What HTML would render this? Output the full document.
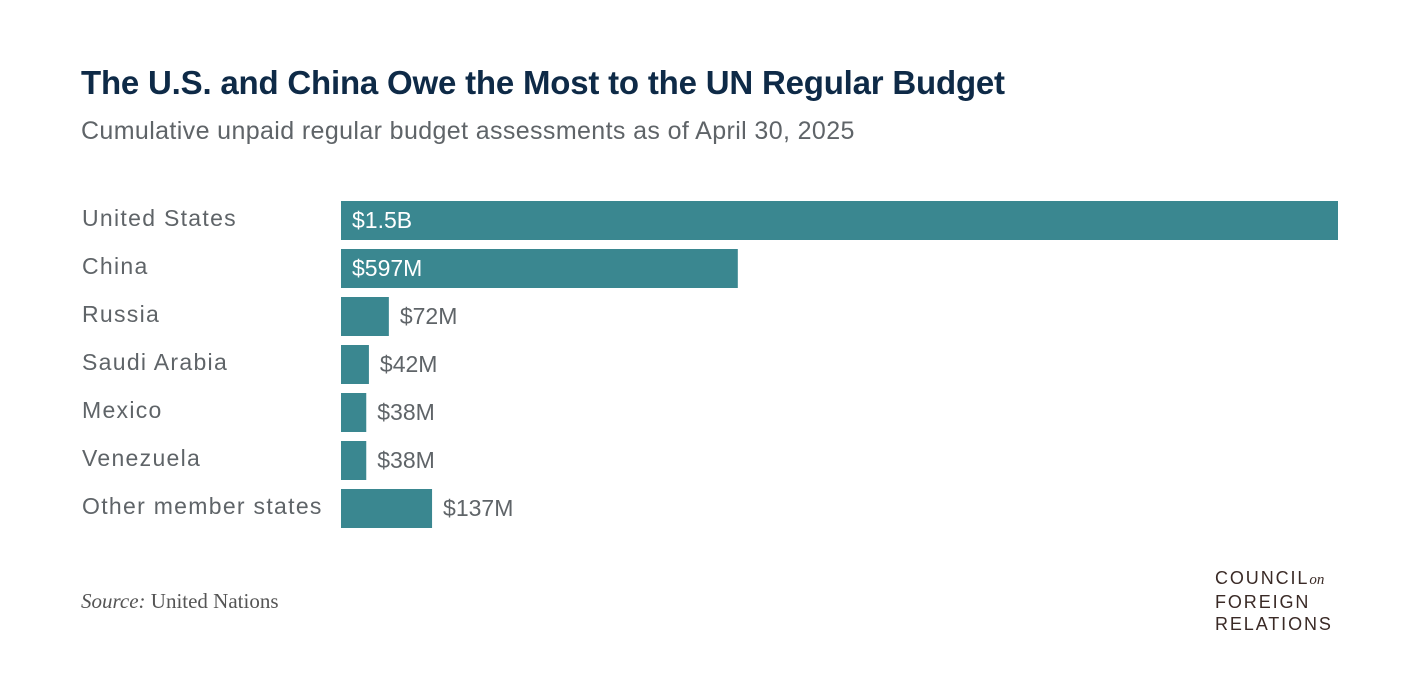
<!DOCTYPE html>
<html><head><meta charset="utf-8"><style>
body{margin:0;width:1402px;height:684px;background:#fff;font-family:"Liberation Sans",sans-serif;position:relative;overflow:hidden}
.t{position:absolute;white-space:nowrap}
</style></head><body>
<div class="t" style="left:81px;top:64px;font-size:33px;font-weight:bold;color:#0e2a47;letter-spacing:-0.2px">The U.S. and China Owe the Most to the UN Regular Budget</div>
<div class="t" style="left:81px;top:117px;font-size:25px;color:#5f6468;letter-spacing:0.38px">Cumulative unpaid regular budget assessments as of April 30, 2025</div>
<svg id="chart" width="1402" height="560" style="position:absolute;left:0;top:0"></svg>
<div class="t" style="left:81px;top:589px;font-size:21px;color:#555;font-family:'Liberation Serif',serif"><i>Source:</i> United Nations</div>
<div class="t" style="left:1215px;top:567px;font-size:18px;line-height:22px;color:#3a2a26;letter-spacing:1.9px">COUNCIL<i style="font-family:'Liberation Serif',serif;letter-spacing:0;font-size:15px">on</i><br>FOREIGN<br>RELATIONS</div>
<script>
const categories=["United States","China","Russia","Saudi Arabia","Mexico","Venezuela","Other member states"];
const values=[1500,597,72,42,38,38,137];
const valueLabels=["$1.5B","$597M","$72M","$42M","$38M","$38M","$137M"];
const svg=document.getElementById('chart');
const NS="http://www.w3.org/2000/svg";
const x0=341,x1=1338,maxV=1500;
const xs=v=>(v/maxV)*(x1-x0);
const ys=i=>201+i*48;
categories.forEach((c,i)=>{
 const y=ys(i),w=xs(values[i]);
 const lab=document.createElementNS(NS,'text');
 
 
 lab.setAttribute('x',82);lab.setAttribute('y',y+25);
 lab.setAttribute('font-size','23');lab.setAttribute('letter-spacing','1.3');lab.setAttribute('fill','#5f6468');
 lab.textContent=c;svg.appendChild(lab);
 const r=document.createElementNS(NS,'rect');
 
 
 r.setAttribute('x',x0);r.setAttribute('y',y);r.setAttribute('width',w);r.setAttribute('height',39);
 r.setAttribute('fill','#3a8790');svg.appendChild(r);
 const inside=w>150;
 const v=document.createElementNS(NS,'text');
 
 
 v.setAttribute('x',inside?x0+11:x0+w+11);v.setAttribute('y',y+27);
 v.setAttribute('font-size','23');v.setAttribute('fill',inside?'#fff':'#5f6468');
 v.textContent=valueLabels[i];svg.appendChild(v);
});
</script>
</body></html>
